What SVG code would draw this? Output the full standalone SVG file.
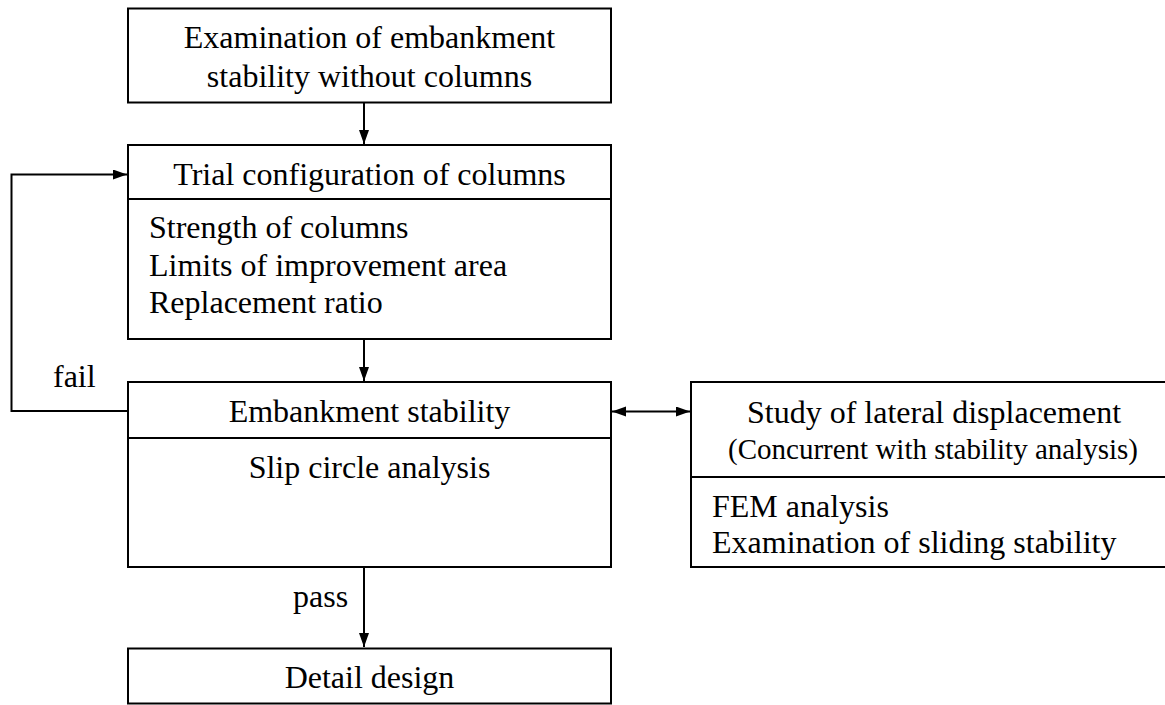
<svg xmlns="http://www.w3.org/2000/svg" width="1165" height="705" viewBox="0 0 1165 705">
  <style>
    .box { fill: #ffffff; stroke: #000000; stroke-width: 2; }
    .div { stroke: #000000; stroke-width: 2; }
    .edge { fill: none; stroke: #000000; stroke-width: 2; }
    text { font-family: "Liberation Serif", "Times New Roman", serif; font-size: 32px; fill: #000000; }
    .c { text-anchor: middle; }
    .small { font-size: 29px; }
  </style>
  <defs>
    <marker id="arrow" markerUnits="userSpaceOnUse" markerWidth="15" markerHeight="12" refX="14" refY="5" orient="auto-start-reverse">
      <path d="M0,0 L14,5 L0,10 z" fill="#000000"/>
    </marker>
  </defs>
  <rect width="1165" height="705" fill="#ffffff"/>

  <!-- connectors -->
  <g id="connectors">
    <line class="edge" x1="364" y1="103" x2="364" y2="144" marker-end="url(#arrow)"/>
    <line class="edge" x1="364" y1="340" x2="364" y2="381" marker-end="url(#arrow)"/>
    <line class="edge" x1="364" y1="567" x2="364" y2="647" marker-end="url(#arrow)"/>
    <path class="edge" d="M128,411 H11.5 V174.5 H127" marker-end="url(#arrow)"/>
    <line class="edge" x1="612" y1="411.5" x2="690" y2="411.5" marker-start="url(#arrow)" marker-end="url(#arrow)"/>
    <text x="53" y="387">fail</text>
    <text x="293" y="607">pass</text>
  </g>

  <!-- examination without columns -->
  <g id="node-examination">
    <rect class="box" x="128" y="8.5" width="483" height="94"/>
    <text class="c" x="369.5" y="48">Examination of embankment</text>
    <text class="c" x="369.5" y="87">stability without columns</text>
  </g>

  <!-- trial configuration -->
  <g id="node-trial">
    <rect class="box" x="128" y="145" width="483" height="194"/>
    <line class="div" x1="128" y1="199" x2="611" y2="199"/>
    <text class="c" x="369.5" y="185">Trial configuration of columns</text>
    <text x="149" y="238">Strength of columns</text>
    <text x="149" y="276">Limits of improvement area</text>
    <text x="149" y="313">Replacement ratio</text>
  </g>

  <!-- embankment stability -->
  <g id="node-stability">
    <rect class="box" x="128" y="382" width="483" height="185"/>
    <line class="div" x1="128" y1="438" x2="611" y2="438"/>
    <text class="c" x="369.5" y="422">Embankment stability</text>
    <text class="c" x="369.5" y="478">Slip circle analysis</text>
  </g>

  <!-- lateral displacement -->
  <g id="node-lateral">
    <rect class="box" x="691" y="382" width="490" height="185"/>
    <line class="div" x1="691" y1="477" x2="1181" y2="477"/>
    <text class="c" x="934" y="423">Study of lateral displacement</text>
    <text class="c small" x="933" y="459">(Concurrent with stability analysis)</text>
    <text x="712" y="517">FEM analysis</text>
    <text x="712" y="553">Examination of sliding stability</text>
  </g>

  <!-- detail design -->
  <g id="node-detail">
    <rect class="box" x="128" y="648.5" width="483" height="55"/>
    <text class="c" x="369.5" y="688">Detail design</text>
  </g>
</svg>
